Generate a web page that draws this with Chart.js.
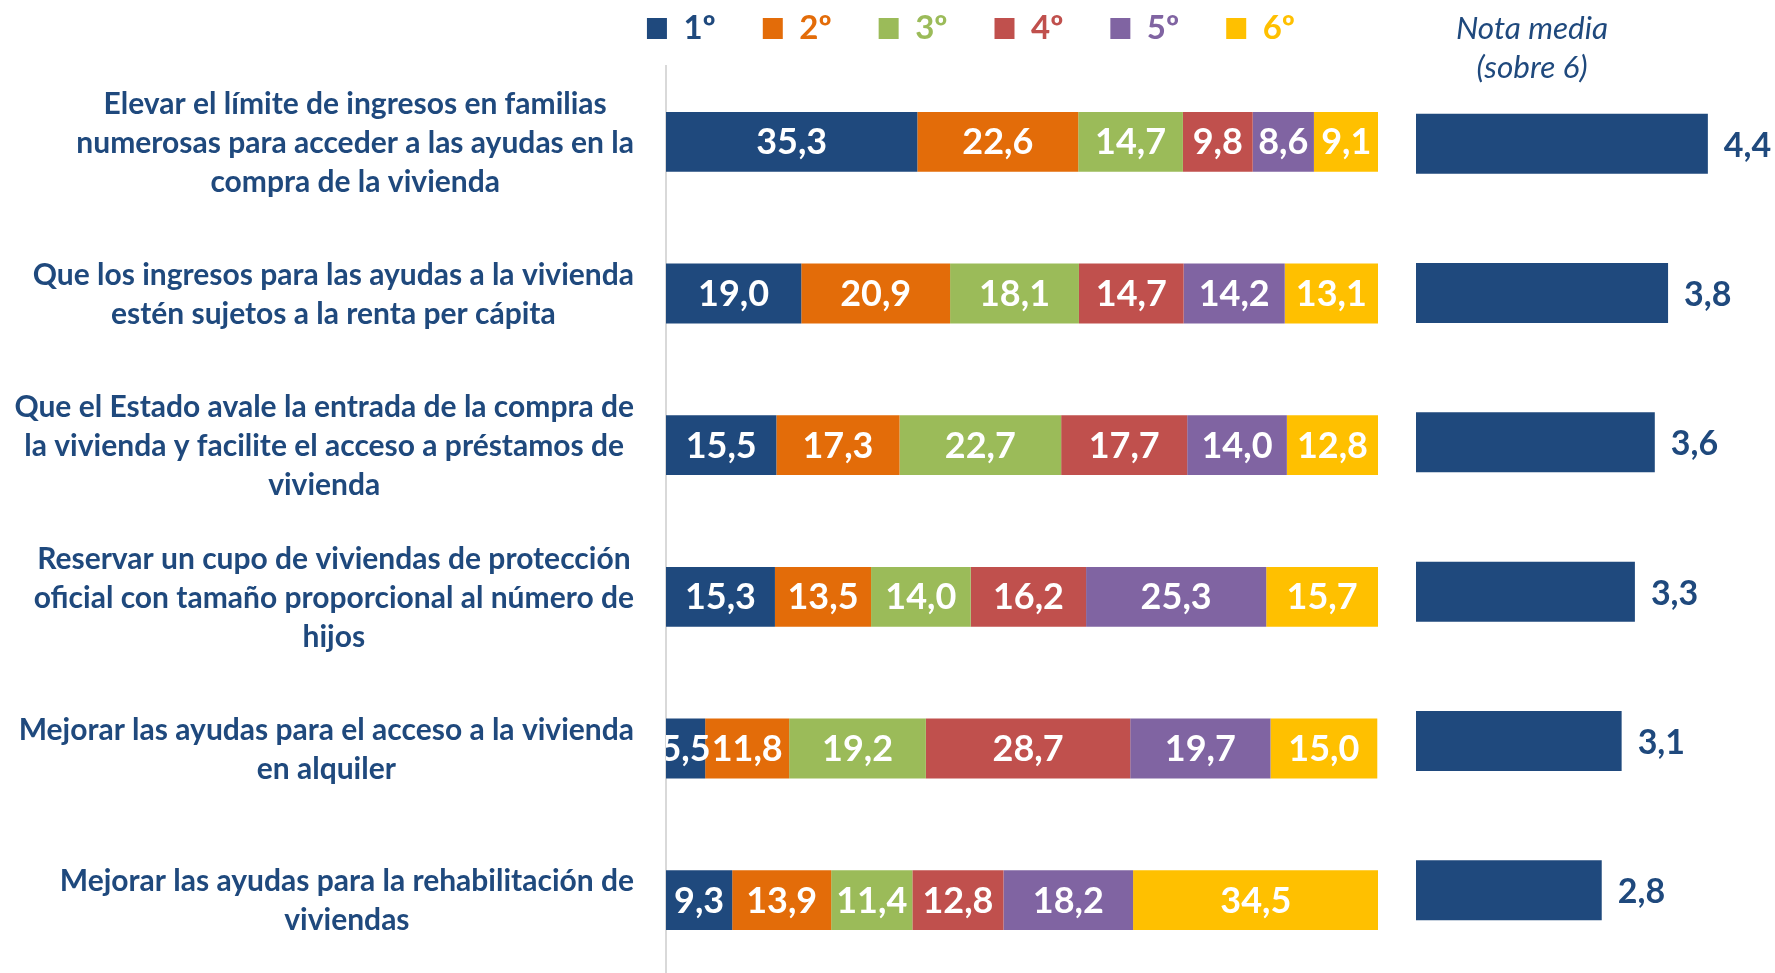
<!DOCTYPE html>
<html><head><meta charset="utf-8">
<script src="https://cdn.jsdelivr.net/npm/chart.js@4.4.0/dist/chart.umd.min.js"></script>
<style>
html,body{margin:0;padding:0;background:#fff;overflow:hidden;width:1775px;height:973px;}
#wrapL{position:absolute;left:0;top:0;width:1400px;height:980px;}
#wrapR{position:absolute;left:1400px;top:0;width:430px;height:980px;}
</style></head><body>
<div id="wrapL"><canvas id="left"></canvas></div>
<div id="wrapR"><canvas id="right"></canvas></div>
<script>
const categories = [
  ['Elevar el límite de ingresos en familias', 'numerosas para acceder a las ayudas en la', 'compra de la vivienda'],
  ['Que los ingresos para las ayudas a la vivienda', 'estén sujetos a la renta per cápita'],
  ['Que el Estado avale la entrada de la compra de', 'la vivienda y facilite el acceso a préstamos de', 'vivienda'],
  ['Reservar un cupo de viviendas de protección', 'oficial con tamaño proporcional al número de', 'hijos'],
  ['Mejorar las ayudas para el acceso a la vivienda', 'en alquiler'],
  ['Mejorar las ayudas para la rehabilitación de', 'viviendas']
];
const rankLabels = ['1º', '2º', '3º', '4º', '5º', '6º'];
const rank1 = [35.3, 19.0, 15.5, 15.3, 5.5, 9.3];
const rank2 = [22.6, 20.9, 17.3, 13.5, 11.8, 13.9];
const rank3 = [14.7, 18.1, 22.7, 14.0, 19.2, 11.4];
const rank4 = [9.8, 14.7, 17.7, 16.2, 28.7, 12.8];
const rank5 = [8.6, 14.2, 14.0, 25.3, 19.7, 18.2];
const rank6 = [9.1, 13.1, 12.8, 15.7, 15.0, 34.5];
const meanScore = [4.4, 3.8, 3.6, 3.3, 3.1, 2.8];
const meanTitle = ['Nota media', '(sobre 6)'];

const rankColors = ['#1F497D', '#E36C09', '#9BBB59', '#C0504D', '#8064A2', '#FFC000'];
const textBlue = '#1F497D';
const FONT = 'Lato, "Open Sans", sans-serif';
const fmt = v => v.toFixed(1).replace('.', ',');

const rankSeries = [rank1, rank2, rank3, rank4, rank5, rank6];

const yLabelPlugin = {
  id: 'yLabels',
  afterDraw(chart) {
    const ctx = chart.ctx, ys = chart.scales.y;
    const rightEdge = chart.chartArea.left - 32;
    const lh = 39;
    ctx.save();
    ctx.font = 'bold 30px ' + FONT;
    ctx.fillStyle = textBlue;
    ctx.textAlign = 'center';
    ctx.textBaseline = 'middle';
    categories.forEach((lines, i) => {
      const y = ys.getPixelForTick(i);
      const widest = Math.max(...lines.map(l => ctx.measureText(l).width));
      const cx = rightEdge - widest / 2;
      lines.forEach((l, k) => {
        ctx.fillText(l, cx, y + 1 + (k - (lines.length - 1) / 2) * lh);
      });
    });
    ctx.restore();
  }
};

const segLabelPlugin = {
  id: 'segLabels',
  afterDatasetsDraw(chart) {
    const ctx = chart.ctx, a = chart.chartArea;
    ctx.save();
    ctx.beginPath();
    ctx.rect(a.left, a.top, a.right - a.left, a.bottom - a.top);
    ctx.clip();
    ctx.font = 'bold 36px ' + FONT;
    ctx.fillStyle = '#FFFFFF';
    ctx.textAlign = 'center';
    ctx.textBaseline = 'middle';
    chart.data.datasets.forEach((ds, di) => {
      chart.getDatasetMeta(di).data.forEach((el, i) => {
        ctx.fillText(fmt(ds.data[i]), (el.x + el.base) / 2, el.y + 1);
      });
    });
    ctx.restore();
  }
};

new Chart(document.getElementById('left'), {
  type: 'bar',
  data: {
    labels: categories.map(c => c.join(' ')),
    datasets: rankLabels.map((lab, k) => ({
      label: lab,
      data: rankSeries[k],
      backgroundColor: rankColors[k],
      borderWidth: 0,
      barPercentage: 0.395,
      categoryPercentage: 1
    }))
  },
  options: {
    indexAxis: 'y',
    responsive: true,
    maintainAspectRatio: false,
    animation: false,
    layout: { padding: { left: 564, right: 22, top: -35, bottom: 4 } },
    scales: {
      x: { stacked: true, min: 0, max: 100, display: false },
      y: {
        stacked: true,
        ticks: { display: false },
        grid: { display: false },
        border: { display: true, color: '#D9D9D9', width: 2 },
        afterFit(s) { s.width = 102; }
      }
    },
    plugins: {
      legend: {
        position: 'top',
        labels: {
          boxWidth: 20,
          boxHeight: 21,
          padding: 47,
          font: { family: FONT, size: 33, weight: 'bold' },
          generateLabels(chart) {
            return chart.data.datasets.map((ds, i) => ({
              text: ds.label,
              fillStyle: rankColors[i],
              strokeStyle: rankColors[i],
              lineWidth: 0,
              fontColor: rankColors[i],
              hidden: false,
              datasetIndex: i
            }));
          }
        }
      },
      title: {
        display: true, text: '', weight: 500,
        font: { size: 1, lineHeight: 1 },
        padding: { top: 0, bottom: 10 }
      },
      tooltip: { enabled: false }
    }
  },
  plugins: [yLabelPlugin, segLabelPlugin]
});

const meanLabelPlugin = {
  id: 'meanLabels',
  afterDatasetsDraw(chart) {
    const ctx = chart.ctx;
    ctx.save();
    ctx.font = 'bold 34px ' + FONT;
    ctx.fillStyle = textBlue;
    ctx.textAlign = 'left';
    ctx.textBaseline = 'middle';
    const ds = chart.data.datasets[0];
    chart.getDatasetMeta(0).data.forEach((el, i) => {
      ctx.fillText(fmt(ds.data[i]), el.x + 16, el.y + 2);
    });
    ctx.font = 'italic 31.5px ' + FONT;
    ctx.textAlign = 'center';
    const cx = chart.chartArea.left + 116;
    meanTitle.forEach((t, k) => ctx.fillText(t, cx, 29 + k * 39));
    ctx.restore();
  }
};

new Chart(document.getElementById('right'), {
  type: 'bar',
  data: {
    labels: categories.map(c => c.join(' ')),
    datasets: [{
      label: meanTitle.join(' '),
      data: meanScore,
      backgroundColor: '#1F497D',
      borderWidth: 0,
      barPercentage: 0.402,
      categoryPercentage: 1
    }]
  },
  options: {
    indexAxis: 'y',
    responsive: true,
    maintainAspectRatio: false,
    animation: false,
    layout: { padding: { left: 16, right: 16, top: 69, bottom: 15 } },
    scales: {
      x: { min: 0, max: 6, display: false },
      y: { display: false }
    },
    plugins: { legend: { display: false }, tooltip: { enabled: false } }
  },
  plugins: [meanLabelPlugin]
});
</script>
</body></html>
